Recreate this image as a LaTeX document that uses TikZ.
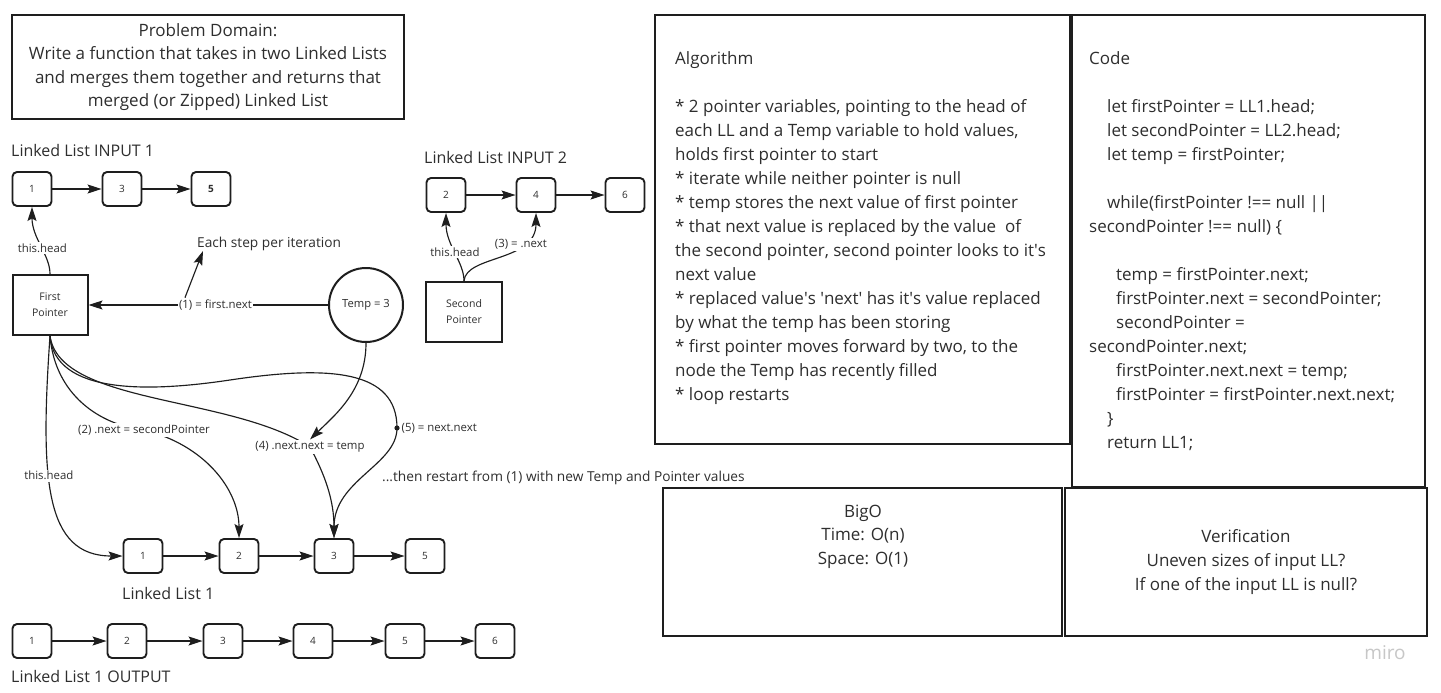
\documentclass[tikz,border=0pt]{standalone}
\usepackage{fontspec}
\setmainfont{Open Sans}
\usetikzlibrary{arrows.meta,calc}
\definecolor{ink}{HTML}{2E2E2E}
\definecolor{edge}{HTML}{1E1E1E}
\newcommand{\aps}{\textquotesingle}
\begin{document}
\begin{tikzpicture}[x=1pt,y=-1pt,
  bigbox/.style={draw=edge, line width=2.4pt, inner sep=0pt},
  ptrbox/.style={draw=edge, line width=2pt, align=center, text=ink, font=\fontsize{10.5}{16}\selectfont},
  llnode/.style={draw=edge, line width=1.9pt, rounded corners=4.5pt, minimum width=39pt, minimum height=34pt, text=ink, font=\fontsize{10}{12}\selectfont, inner sep=0pt},
  arr/.style={draw=edge, line width=1.15pt, -{Stealth[length=14pt,width=9pt,inset=2.5pt]}},
  lbl/.style={fill=white, inner sep=1.5pt, text=ink, font=\fontsize{11.4}{13}\selectfont},
  title/.style={anchor=west, inner sep=0pt, text=ink, font=\fontsize{16}{19}\selectfont},
  note/.style={anchor=west, inner sep=0pt, text=ink, font=\fontsize{13.7}{16}\selectfont},
  bodytext/.style={anchor=north west, inner sep=0pt, align=left, text=ink, font=\fontsize{17}{24}\selectfont}
]
\useasboundingbox (0,0) rectangle (1441,693);
\fill[white] (0,0) rectangle (1441,693);

% Problem domain
\node[bigbox, minimum width=392pt, minimum height=104pt, align=center, text=ink,
  font=\fontsize{17}{23.6}\selectfont] (pd) at (208,67)
  {Problem Domain:\\Write a function that takes in two Linked Lists\\and merges them together and returns that\\merged (or Zipped) Linked List};

% Linked list input 1
\node[title] (t1) at (11,150) {Linked List INPUT 1};
\node[llnode] (a1) at (32,189) {1};
\node[llnode] (a3) at (122,189) {3};
\node[llnode] (a5) at (211,189) {\textbf{5}};
\draw[arr] (a1) -- (a3);
\draw[arr] (a3) -- (a5);

% Linked list input 2
\node[title] (t2) at (424,157) {Linked List INPUT 2};
\node[llnode] (b2) at (446,195) {2};
\node[llnode] (b4) at (536,195) {4};
\node[llnode] (b6) at (625,195) {6};
\draw[arr] (b2) -- (b4);
\draw[arr] (b4) -- (b6);

% Pointers and temp
\node[ptrbox, minimum width=75pt, minimum height=60pt] (fp) at (50,305) {First\\Pointer};
\node[ptrbox, minimum width=76pt, minimum height=60pt] (sp) at (464,312) {Second\\Pointer};
\node[draw=edge, line width=2pt, circle, minimum size=74pt, inner sep=0pt, text=ink,
  font=\fontsize{11.2}{13}\selectfont] (temp) at (366,305) {Temp = 3};

\node[note] (each) at (197,244) {Each step per iteration};

\draw[arr] (fp.north) .. controls (50,255) and (32,238) .. (a1.south) node[lbl, pos=0.45] {this.head};
\draw[arr] (temp.west) -- (fp.east) node[lbl, pos=0.47] (lab1) {(1) = first.next};
\draw[arr] ([xshift=8pt]lab1.north west) -- ([xshift=6pt]each.south west);

\draw[arr] (sp.north) .. controls (464,262) and (446,245) .. (b2.south) node[lbl, pos=0.5] {this.head};
\draw[arr] (sp.north) .. controls (466,255) and (536,262) .. (b4.south) node[lbl, pos=0.7] {(3) = .next};

% Linked list 1
\node[llnode] (c1) at (143,556) {1};
\node[llnode] (c2) at (239,556) {2};
\node[llnode] (c3) at (334,556) {3};
\node[llnode] (c5) at (425,556) {5};
\draw[arr] (c1) -- (c2);
\draw[arr] (c2) -- (c3);
\draw[arr] (c3) -- (c5);
\node[title] (t3) at (122,593) {Linked List 1};

% curves from first pointer
\draw[arr] (fp.south) .. controls (40,480) and (45,556) .. (c1.west) node[lbl, pos=0.4] {this.head};
\draw[arr] (fp.south) .. controls (55,395) and (100,425) .. (144,430)
  node[lbl] (lab2) {(2) .next = secondPointer}
  .. controls (205,445) and (239,490) .. (c2.north);
\draw[arr] (fp.south) .. controls (55,395) and (150,392) .. (230,380)
  .. controls (330,365) and (397,370) .. (397,428) coordinate (d5)
  .. controls (397,465) and (334,480) .. (c3.north);
\draw[arr] (fp.south) .. controls (60,405) and (230,395) .. (310,447)
  node[lbl] (lab4) {(4) .next.next = temp}
  .. controls (325,475) and (334,500) .. (c3.north);
\fill[edge] (d5) circle (2.6pt);
\node[lbl, anchor=west, fill=none] (lab5) at ([xshift=3pt]d5) {(5) = next.next};
\draw[arr] (temp.south) .. controls (366,390) and (335,415) .. (lab4.north);

\node[note] (restart) at (382,478) {...then restart from (1) with new Temp and Pointer values};

% Output list
\node[llnode] (o1) at (32,641) {1};
\node[llnode] (o2) at (127,641) {2};
\node[llnode] (o3) at (223,641) {3};
\node[llnode] (o4) at (313,641) {4};
\node[llnode] (o5) at (405,641) {5};
\node[llnode] (o6) at (495,641) {6};
\draw[arr] (o1) -- (o2);
\draw[arr] (o2) -- (o3);
\draw[arr] (o3) -- (o4);
\draw[arr] (o4) -- (o5);
\draw[arr] (o5) -- (o6);
\node[title] (t4) at (11,676) {Linked List 1 OUTPUT};

% Algorithm box
\node[bigbox, minimum width=415pt, minimum height=429pt] (alg) at (862.5,229.5) {};
\node[bodytext] (algt) at (675,51) {Algorithm\\\mbox{}\\
* 2 pointer variables, pointing to the head of\\
each LL and a Temp variable to hold values,\\
holds first pointer to start\\
* iterate while neither pointer is null\\
* temp stores the next value of first pointer\\
* that next value is replaced by the value \ of\\
the second pointer, second pointer looks to it\aps s\\
next value\\
* replaced value\aps s \aps next\aps{} has it\aps s value replaced\\
by what the temp has been storing\\
* first pointer moves forward by two, to the\\
node the Temp has recently filled\\
* loop restarts};

% Code box
\node[bigbox, minimum width=353pt, minimum height=472pt] (code) at (1248.5,251) {};
\node[bodytext] (codet) at (1089,51) {Code\\\mbox{}\\
\hspace*{18pt}let firstPointer = LL1.head;\\
\hspace*{18pt}let secondPointer = LL2.head;\\
\hspace*{18pt}let temp = firstPointer;\\
\mbox{}\\
\hspace*{18pt}while(firstPointer !== null ||\\
secondPointer !== null) \{\\
\mbox{}\\
\hspace*{27pt}temp = firstPointer.next;\\
\hspace*{27pt}firstPointer.next = secondPointer;\\
\hspace*{27pt}secondPointer =\\
secondPointer.next;\\
\hspace*{27pt}firstPointer.next.next = temp;\\
\hspace*{27pt}firstPointer = firstPointer.next.next;\\
\hspace*{18pt}\}\\
\hspace*{18pt}return LL1;};

% BigO and verification
\node[bigbox, minimum width=399pt, minimum height=148pt] (bigo) at (862.5,562) {};
\node[anchor=north, inner sep=0pt, align=center, text=ink, font=\fontsize{17}{23.3}\selectfont] (bigot) at (863,505) {BigO\\Time: O(n)\\Space: O(1)};
\node[bigbox, minimum width=362pt, minimum height=148pt, align=center, text=ink,
  font=\fontsize{17}{24}\selectfont] (ver) at (1246,562) {Verification\\Uneven sizes of input LL?\\If one of the input LL is null?};

\node[text=black!22, inner sep=0pt, font=\fontsize{19}{22}\selectfont] (miro) at (1385,653) {miro};
\end{tikzpicture}
\end{document}
